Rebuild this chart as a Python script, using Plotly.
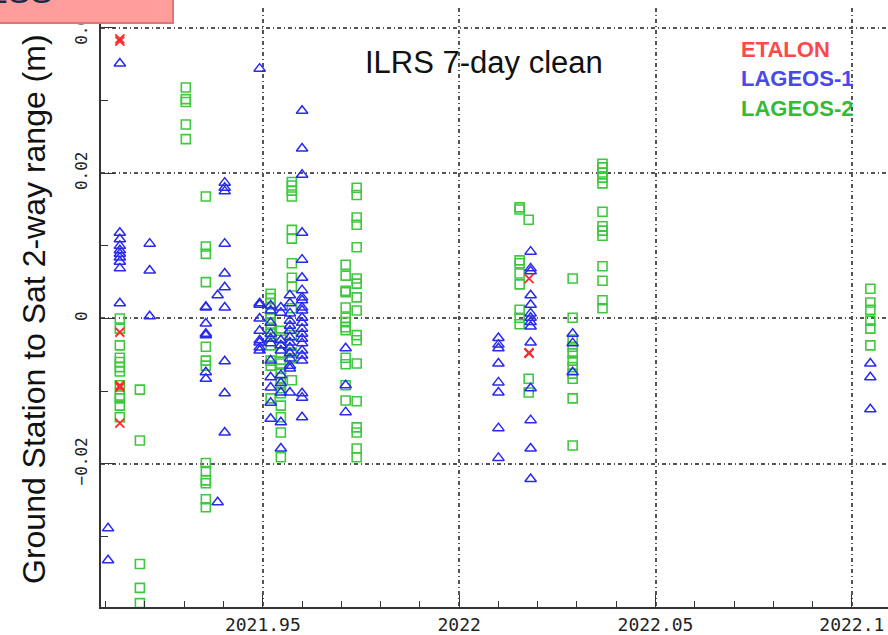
import plotly.graph_objects as go

# ---------------- data (range residuals in mm, epochs in decimal years) ----------------
ETALON_EPOCHS = [2021.9136, 2022.0178]
ETALON_MM = [
    [38.5, 38.2, -1.9, -9.2, -9.5, -14.4],
    [5.5, -4.8, -4.7],
]

LAGEOS1_EPOCHS = [2021.9106, 2021.9136, 2021.9212, 2021.9355, 2021.9385, 2021.9403,
                  2021.9492, 2021.9520, 2021.9546, 2021.9569, 2021.9600, 2021.9711,
                  2022.0100, 2022.0182, 2022.0289, 2022.1047]
LAGEOS1_MM = [
    [-28.9, -33.3],
    [35.1, 11.8, 10.9, 10.0, 9.4, 8.9, 8.4, 7.8, 6.9, 2.1],
    [10.3, 6.6, 0.3],
    [1.5, 1.6, -0.7, -2.1, -2.3, -7.4, -8.3],
    [3.2, -25.3],
    [18.7, 18.0, 17.5, 10.3, 6.2, 4.3, 1.5, -5.9, -10.3, -15.7],
    [34.4, 2.1, 1.9, 0.0, -1.7, -3.0, -3.3, -4.0, -4.4],
    [1.8, 1.1, -0.6, -2.1, -2.8, -3.4, -5.8, -8.1, -9.5, -11.6, -13.8],
    [1.5, 0.8, -3.0, -3.7, -4.4, -7.8, -8.9, -10.2, -14.3, -17.9],
    [3.2, 2.1, 0.7, -0.3, -1.0, -1.7, -2.6, -3.3, -4.0, -4.8, -5.5, -6.5, -6.9, -10.2],
    [28.6, 23.4, 19.8, 11.8, 8.1, 5.6, 3.9, 2.9, 2.5, 1.5, 1.1, 0.1, -0.6, -1.4,
     -2.1, -2.8, -3.4, -4.4, -5.1, -5.8, -10.3, -10.9, -13.6],
    [-4.1, -9.2, -12.9],
    [-2.7, -3.6, -4.1, -6.2, -8.8, -10.2, -15.1, -19.2],
    [9.2, 6.9, 6.5, 3.2, 1.9, 0.7, 0.1, -0.5, -1.1, -3.3, -9.6, -14.0, -17.9, -22.1],
    [-2.1, -3.4, -7.4],
    [-6.2, -8.1, -12.5],
]

LAGEOS2_EPOCHS = [2021.9136, 2021.9187, 2021.9304, 2021.9355, 2021.9520, 2021.9546,
                  2021.9574, 2021.9711, 2021.9739, 2022.0154, 2022.0177, 2022.0289,
                  2022.0365, 2022.1047]
LAGEOS2_MM = [
    [0.0, -1.4, -3.7, -5.4, -6.0, -6.7, -7.3, -9.2, -10.6, -11.0, -12.0, -13.6],
    [-9.8, -16.8, -33.8, -37.1, -39.2],
    [31.8, 30.2, 29.8, 26.7, 24.7],
    [16.8, 9.9, 8.9, 5.0, -3.9, -5.8, -6.5, -19.9, -21.0, -22.3, -22.7, -24.9, -26.0],
    [3.4, 2.8, 2.1, 1.4, 0.7, 0.0, -0.7, -1.4, -2.1, -3.7, -5.8, -6.5, -11.0],
    [-1.7, -2.6, -4.7, -6.2, -6.9, -7.6, -8.2, -8.9, -9.6, -10.3, -12.0, -13.6, -15.7, -19.1],
    [18.8, 18.3, 17.6, 16.8, 12.2, 11.0, 7.6, 5.6, 4.4, 1.4, -2.3, -4.7, -5.5, -8.5],
    [7.4, 5.9, 3.8, 3.6, 1.5, 0.1, -0.5, -1.2, -1.6, -5.4, -6.3, -9.2, -11.3],
    [18.0, 17.0, 13.9, 12.9, 9.8, 5.5, 4.8, 2.9, 1.1, -2.3, -3.0, -6.2, -11.4, -15.0,
     -15.7, -17.9, -19.1],
    [15.3, 15.0, 8.0, 7.6, 6.2, 4.7, 1.2, 0.1, -0.8],
    [13.6, -8.3, -10.2],
    [5.5, 0.1, -2.9, -3.9, -4.8, -5.8, -6.7, -7.6, -8.3, -11.0, -17.5],
    [21.3, 20.8, 20.1, 19.4, 18.6, 14.7, 12.7, 12.1, 11.4, 7.2, 5.2, 2.5, 1.4],
    [4.1, 2.2, 1.2, -0.3, -1.4, -3.7],
]

X_TICKS = [2021.95, 2022.0, 2022.05, 2022.1]
X_TICK_TEXT = ["2021.95", "2022", "2022.05", "2022.1"]
Y_TICKS = [-0.02, 0.0, 0.02, 0.04]
Y_TICK_TEXT = ["\u22120.02", "0", "0.02", "0.04"]

SERIES_NAMES = ["ETALON", "LAGEOS-1", "LAGEOS-2"]
TITLE = "ILRS 7-day clean"
Y_TITLE = "Ground Station to Sat 2-way range (m)"
BOX_TEXT = "ESS"


def flatten(epochs, groups):
    xs, ys = [], []
    for t, vals in zip(epochs, groups):
        for v in vals:
            xs.append(t)
            ys.append(v / 1000.0)
    return xs, ys


fig = go.Figure()

x2, y2 = flatten(LAGEOS2_EPOCHS, LAGEOS2_MM)
fig.add_trace(go.Scatter(x=x2, y=y2, mode="markers", name=SERIES_NAMES[2],
                         marker=dict(symbol="square-open", size=9, color="#3fc83f",
                                     line=dict(width=1.6, color="#3fc83f"))))
x1, y1 = flatten(LAGEOS1_EPOCHS, LAGEOS1_MM)
fig.add_trace(go.Scatter(x=x1, y=y1, mode="markers", name=SERIES_NAMES[1],
                         marker=dict(symbol="triangle-up-open", size=10, color="#2a2aee",
                                     line=dict(width=1.5, color="#2a2aee"))))
x0, y0 = flatten(ETALON_EPOCHS, ETALON_MM)
fig.add_trace(go.Scatter(x=x0, y=y0, mode="markers", name=SERIES_NAMES[0],
                         marker=dict(symbol="x-thin-open", size=9, color="#ff2a2a",
                                     line=dict(width=1.8, color="#ff2a2a"))))

grid = dict(showgrid=True, gridcolor="#555555", gridwidth=1.5, griddash="4px,3px,1px,3px")

fig.update_xaxes(range=[2021.9088, 2022.1092], tickvals=X_TICKS, ticktext=X_TICK_TEXT,
                 ticks="inside", ticklen=12, tickwidth=1.2, tickcolor="#333",
                 minor=dict(dtick=0.01, tick0=2021.95, ticks="inside", ticklen=6,
                            tickcolor="#333", showgrid=False),
                 showline=True, linecolor="#333", linewidth=2, zeroline=False,
                 tickfont=dict(family="DejaVu Sans Mono", size=18, color="#222"),
                 ticklabelstandoff=0, automargin=False, **grid)
fig.update_yaxes(range=[-0.03973, 0.04275], tickvals=Y_TICKS, ticktext=Y_TICK_TEXT,
                 ticks="inside", ticklen=14, tickwidth=1.2, tickcolor="#333",
                 minor=dict(dtick=0.01, tick0=0, ticks="inside", ticklen=7,
                            tickcolor="#333", showgrid=False),
                 showline=True, linecolor="#333", linewidth=2, zeroline=False,
                 tickangle=-90, automargin=False,
                 tickfont=dict(family="DejaVu Sans Mono", size=16, color="#222"),
                 ticklabelstandoff=6, **grid)

W, H = 888, 635
ML, MR, MT, MB = 101, 0, 8, 28
PW, PH = W - ML - MR, H - MT - MB


def px(xp):
    return (xp - ML) / PW


def py(yp):
    return 1 - (yp - MT) / PH


annotations = [
    dict(text=TITLE, x=px(484), y=py(63), xref="paper", yref="paper", showarrow=False,
         xanchor="center", yanchor="middle",
         font=dict(family="Liberation Sans", size=31, color="#111")),
    dict(text=Y_TITLE, x=px(34), y=py(309), xref="paper", yref="paper", showarrow=False,
         xanchor="center", yanchor="middle", textangle=-90,
         font=dict(family="Liberation Sans", size=32, color="#111")),
]
legend_colors = ["#ff4848", "#4848ee", "#33bb33"]
for i, (name, col) in enumerate(zip(SERIES_NAMES, legend_colors)):
    annotations.append(dict(text="<b>" + name + "</b>", x=px(739), y=py([50, 79, 108][i]),
                            xref="paper", yref="paper", xanchor="left", yanchor="middle",
                            showarrow=False,
                            font=dict(family="Liberation Sans", size=22, color=col)))
annotations.append(dict(text=BOX_TEXT, x=px(55), y=py(12), xref="paper", yref="paper",
                        xanchor="right", yanchor="bottom", showarrow=False,
                        font=dict(family="Liberation Sans", size=34, color="#1a2a48")))

shapes = [
    dict(type="rect", xref="paper", yref="paper", x0=px(-5), x1=px(173), y0=py(23), y1=py(-10),
         fillcolor="#ff9c9c", line=dict(color="#e57373", width=2), layer="above"),
]

fig.update_layout(width=W, height=H, margin=dict(l=ML, r=MR, t=MT, b=MB),
                  paper_bgcolor="white", plot_bgcolor="white", showlegend=False,
                  annotations=annotations, shapes=shapes)

fig.write_html("out.html")
